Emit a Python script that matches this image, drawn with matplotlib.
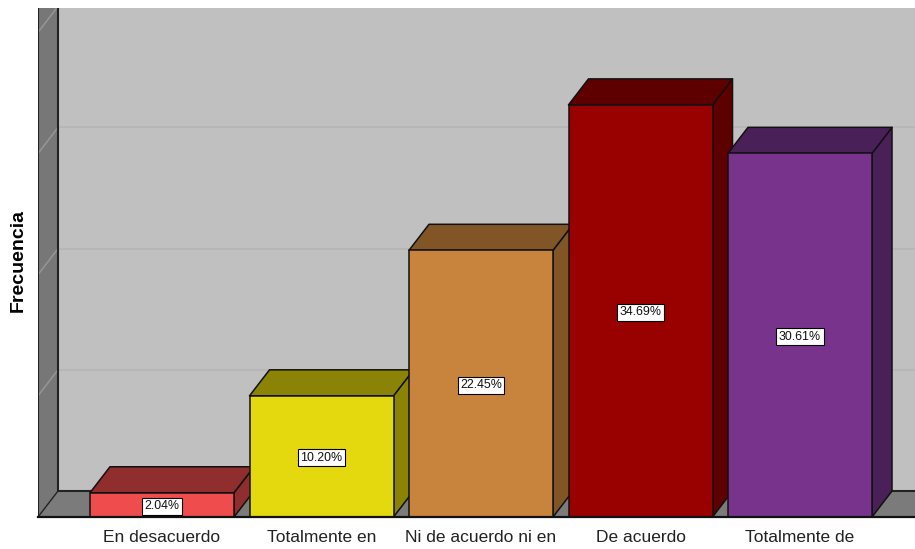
import matplotlib
matplotlib.use("Agg")
import matplotlib.pyplot as plt
from matplotlib.patches import Polygon

plt.rcParams['font.family'] = ['Liberation Sans', 'DejaVu Sans']

categories = ["En desacuerdo", "Totalmente en", "Ni de acuerdo ni en", "De acuerdo", "Totalmente de"]
percent = [2.04, 10.20, 22.45, 34.69, 30.61]
percent_labels = ["2.04%", "10.20%", "22.45%", "34.69%", "30.61%"]
grid_values = [10.2, 20.4, 30.6, 40.8]
front_colors = ["#EF4D4D", "#E4D80E", "#C8843C", "#990000", "#78348D"]
dark_colors = ["#902D2D", "#8B8305", "#825527", "#5E0000", "#4A2058"]

W, H = 915, 549
fig = plt.figure(figsize=(W / 100, H / 100), dpi=100, facecolor="white")
L, R, B, T = 38, 915, 517, 8
ax = fig.add_axes([L / W, 1 - B / H, (R - L) / W, (B - T) / H])

PX_X = 159.5      # pixels per category
PX_Y = 11.88      # pixels per percent
C0 = 162          # pixel centre of first category
x0 = (L - C0) / PX_X
x1 = (R - C0) / PX_X
y1 = (B - T) / PX_Y
ax.set_xlim(x0, x1)
ax.set_ylim(0, y1)
DX = 20 / PX_X
DY = 26 / PX_Y
HW = 72 / PX_X

# walls and floor
ax.add_patch(Polygon([(x0 + DX, DY), (x1, DY), (x1, y1), (x0 + DX, y1)], fc="#C0C0C0", ec="none", zorder=1))
ax.add_patch(Polygon([(x0, 0), (x0 + DX, DY), (x0 + DX, y1), (x0, y1)], fc="#777777", ec="none", zorder=1))
ax.add_patch(Polygon([(x0, 0), (x1, 0), (x1, DY), (x0 + DX, DY)], fc="#7B7B7B", ec="none", zorder=1))
for g in grid_values:
    ax.plot([x0 + DX, x1], [g + DY, g + DY], color="#B6B6B6", lw=1.3, zorder=2, solid_capstyle="butt")
    ax.plot([x0, x0 + DX], [g, g + DY], color="#969696", lw=1.1, zorder=2)
ax.plot([x0 + DX, x0 + DX, x1], [y1, DY, DY], color="#222222", lw=1.5, zorder=2)
ax.plot([x0, x0 + DX], [0, DY], color="#222222", lw=1.0, zorder=2)
ax.plot([x0, x0], [0, y1], color="#222222", lw=1.5, zorder=2)

# bars
edge = dict(ec="#111111", lw=1.1, joinstyle="round")
for i, v in enumerate(percent):
    z = 3 + i
    l, r = i - HW, i + HW
    ax.add_patch(Polygon([(r, 0), (r + DX, DY), (r + DX, v + DY), (r, v)], fc=dark_colors[i], zorder=z, **edge))
    ax.add_patch(Polygon([(l, v), (r, v), (r + DX, v + DY), (l + DX, v + DY)], fc=dark_colors[i], zorder=z, **edge))
    ax.add_patch(Polygon([(l, 0), (r, 0), (r, v), (l, v)], fc=front_colors[i], zorder=z, **edge))
    ax.annotate(percent_labels[i], (i, v / 2), xytext=(0, -1), textcoords="offset points",
                ha="center", va="center", fontsize=8.9, color="#111111", zorder=20,
                bbox=dict(boxstyle="square,pad=0.2", fc="white", ec="black", lw=0.8))

ax.plot([x0, x1], [0, 0], color="#111111", lw=1.6, zorder=15, clip_on=False)

ax.set_xticks(range(len(categories)))
ax.set_xticklabels(categories, fontsize=12.5, color="#222222")
ax.set_yticks([])
ax.tick_params(axis="x", length=0, pad=9)
for s in ax.spines.values():
    s.set_visible(False)

fig.text(18 / W, 1 - 261 / H, "Frecuencia", rotation=90, ha="center", va="center",
         fontsize=14, fontweight="bold", color="black")

fig.savefig("out.png", dpi=100, facecolor="white")
